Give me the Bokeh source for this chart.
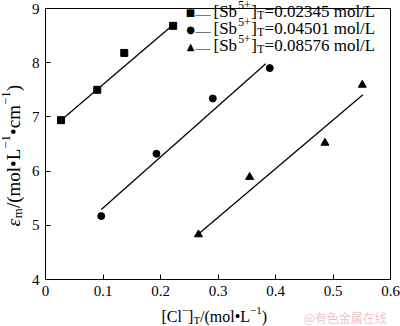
import math
from bokeh.plotting import figure
from bokeh.models import Range1d, FixedTicker
from bokeh.core.properties import value
from bokeh.embed import file_html
from bokeh.resources import INLINE

# ---- data ----
sq_x = [0.027, 0.090, 0.137, 0.222]
sq_y = [6.94, 7.50, 8.18, 8.68]
ci_x = [0.097, 0.193, 0.291, 0.390]
ci_y = [5.17, 6.32, 7.34, 7.90]
tr_x = [0.266, 0.355, 0.486, 0.551]
tr_y = [4.83, 5.89, 6.52, 7.59]

fit1_x = [0.027, 0.222]
fit1_y = [6.94, 8.70]
fit2_x = [0.097, 0.383]
fit2_y = [5.29, 7.98]
fit3_x = [0.266, 0.552]
fit3_y = [4.84, 7.41]

x_ticks = [0, 0.1, 0.2, 0.3, 0.4, 0.5, 0.6]
x_tick_labels = ["0", "0.1", "0.2", "0.3", "0.4", "0.5", "0.6"]
y_ticks = [4, 5, 6, 7, 8, 9]
y_tick_labels = ["4", "5", "6", "7", "8", "9"]
series_conc = ["0.02345", "0.04501", "0.08576"]

FONT = "Liberation Serif"
W_, H_ = 400, 326
LEFT, RIGHT, TOP, BOTTOM = 45, 10, 8, 47
FRAME_BOTTOM = H_ - BOTTOM
X0, Y0 = 0.0, 4.0  # frame bottom-left corner in data units (anchor for text offsets)

p = figure(width=W_, height=H_, output_backend="svg", toolbar_location=None,
           x_range=Range1d(0, 0.6), y_range=Range1d(4, 9),
           min_border_left=LEFT, min_border_right=RIGHT,
           min_border_top=TOP, min_border_bottom=BOTTOM)
p.grid.visible = False
p.outline_line_color = "black"
p.outline_line_width = 1
p.background_fill_color = "white"
p.border_fill_color = "white"

for ax in (p.xaxis[0], p.yaxis[0]):
    ax.axis_line_color = "black"
    ax.major_tick_line_color = "black"
    ax.major_tick_in = 5
    ax.major_tick_out = 0
    ax.minor_tick_line_color = None
    ax.major_label_text_font = FONT
    ax.major_label_text_font_size = "15px"
    ax.major_label_text_color = "black"

p.xaxis[0].ticker = FixedTicker(ticks=x_ticks)
p.xaxis[0].major_label_overrides = {t: l for t, l in zip(x_ticks, x_tick_labels)}
p.xaxis[0].major_label_standoff = 6
p.yaxis[0].ticker = FixedTicker(ticks=y_ticks)
p.yaxis[0].major_label_overrides = {t: l for t, l in zip(y_ticks, y_tick_labels)}
p.yaxis[0].major_label_standoff = 6

# fitted lines
for fx, fy in ((fit1_x, fit1_y), (fit2_x, fit2_y), (fit3_x, fit3_y)):
    p.line(fx, fy, line_color="black", line_width=1.3)

p.scatter(sq_x, sq_y, marker="square", size=7, color="black")
p.scatter(ci_x, ci_y, marker="circle", size=7, color="black")
p.scatter(tr_x, tr_y, marker="triangle", size=8, color="black")

# ---- rich text helper (canvas pixel positions given as offsets from frame corner) ----
WID = {' ': 0.25, '(': 0.333, ')': 0.333, '[': 0.333, ']': 0.333, '/': 0.278,
       '.': 0.25, '=': 0.564, '+': 0.564, '−': 0.564, '-': 0.333, '•': 0.35,
       'S': 0.556, 'b': 0.5, 'm': 0.778, 'o': 0.5, 'l': 0.278, 'L': 0.611,
       'C': 0.667, 'c': 0.444, 'T': 0.611, 'ε': 0.44}


def adv(s, size):
    return sum(WID.get(c, 0.5) for c in s) * size


def put(text, cx, cy, size, font=FONT, color="black", angle=0.0, style="normal",
        align="left", baseline="alphabetic"):
    p.text(x=[X0], y=[Y0], text=[text], x_offset=cx - LEFT, y_offset=cy - FRAME_BOTTOM,
           angle=angle, text_font=value(font), text_font_size=f"{size:.1f}px",
           text_color=color, text_font_style=style, text_align=align,
           text_baseline=baseline, level="overlay")


def rich(runs, cx, cy, size, vertical=False, spacing=1.0):
    pos = 0.0
    for text, kind in runs:
        italic = kind.endswith("i")
        k = kind.rstrip("i")
        fs = size if k == "n" else size * 0.68
        off = 0.0 if k == "n" else (size * 0.40 if k == "sup" else -size * 0.22)
        if not vertical:
            x, y, ang = cx + pos, cy - off, 0.0
        else:
            x, y, ang = cx - off, cy - pos, math.pi / 2
        put(text, x, y, fs, angle=ang, style="italic" if italic else "normal")
        pos += adv(text, fs) * spacing


# y axis label
rich([("ε", "ni"), ("m", "sub"), ("/(mol•L", "n"), ("−1", "sup"), ("•cm", "n"),
      ("−1", "sup"), (")", "n")], 13, 226, 19, vertical=True)
# x axis label
rich([("[Cl", "n"), ("−", "sup"), ("]", "n"), ("T", "sub"), ("/(mol•L", "n"),
      ("−1", "sup"), (")", "n")], 161, 316, 16)

# legend
marks = ["■", "●", "▲"]
for i, (mk, conc) in enumerate(zip(marks, series_conc)):
    row = 12 + 17 * i
    put(mk, 190, row, 10, font="DejaVu Sans", align="center", baseline="middle")
    put("—", 195, row + 1, 15)
    rich([("[Sb", "n"), ("5+", "sup"), ("]", "n"), ("T", "sub"),
          (f"={conc} mol/L", "n")], 213, row - 1, 17, spacing=1.05)

# watermark
put("@有色金属在线", 303, 317, 12, font="Noto Sans CJK SC", color="#f0c4c8")

open("out.html", "w").write(file_html(p, INLINE))
